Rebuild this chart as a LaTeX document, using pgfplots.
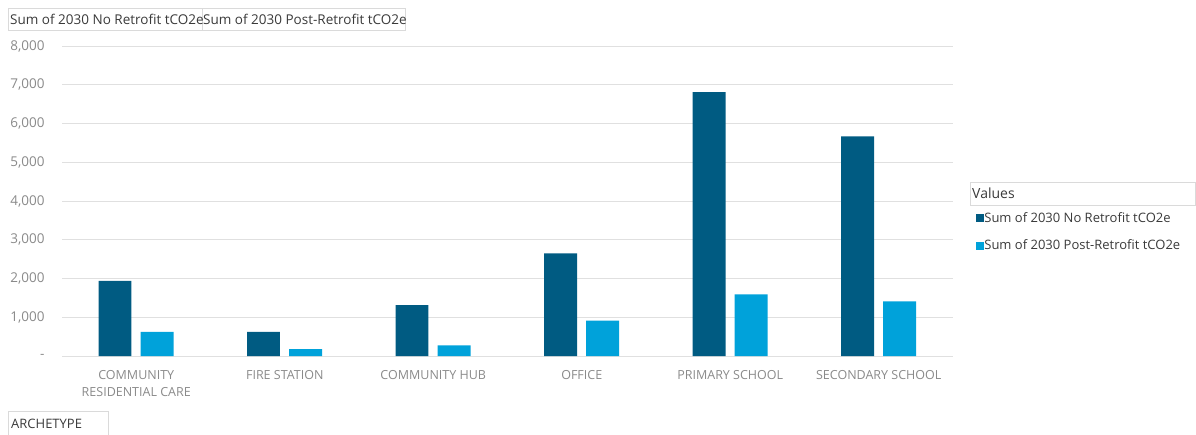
\documentclass[border=0pt]{standalone}
\usepackage{fontspec}
\setmainfont{Open Sans}
\usepackage{pgfplots}
\pgfplotsset{compat=1.18}
\definecolor{dark}{HTML}{005B82}
\definecolor{light}{HTML}{00A2DA}
\definecolor{gridc}{HTML}{E0E0E0}
\definecolor{tickc}{HTML}{8A8A8A}
\definecolor{boxc}{HTML}{DADADA}
\definecolor{txt}{HTML}{3A3A3A}
\begin{document}
\begin{tikzpicture}[x=1pt,y=1pt]
\useasboundingbox (0,0) rectangle (1196,434);
\begin{axis}[
  at={(62pt,78pt)}, anchor=south west,
  scale only axis, width=891pt, height=310pt,
  xmin=-0.5, xmax=5.5, ymin=0, ymax=8000,
  axis line style={draw=none},
  ymajorgrids, grid style={gridc, line width=0.8pt},
  ytick={0,1000,2000,3000,4000,5000,6000,7000,8000},
  yticklabels={{-},{1,000},{2,000},{3,000},{4,000},{5,000},{6,000},{7,000},{8,000}},
  xtick={0,1,2,3,4,5},
  xticklabels={{COMMUNITY\\RESIDENTIAL CARE},{FIRE STATION},{COMMUNITY HUB},{OFFICE},{PRIMARY SCHOOL},{SECONDARY SCHOOL}},
  x tick label style={font=\fontsize{12.5}{17}\selectfont, text=tickc, align=center, yshift=-11pt},
  y tick label style={font=\fontsize{13.5}{16}\selectfont, text=tickc, xshift=-14pt},
  major tick length=0pt,
  ybar, bar width=0.222,
  legend style={at={(1.026,0.47)}, anchor=north west, draw=none, fill=none,
    font=\fontsize{13}{15}\selectfont, text=txt, row sep=12pt,
    inner xsep=0pt, inner ysep=0pt, cells={anchor=west}},
  legend image code/.code={\fill[#1] (0pt,-4pt) rectangle (8pt,4pt);},
]
\addplot[fill=dark, draw=none, bar shift=-0.143] coordinates {(0,1940) (1,620) (2,1310) (3,2650) (4,6810) (5,5670)};
\addlegendentry{\hspace{-2pt}Sum of 2030 No Retrofit tCO2e}
\addplot[fill=light, draw=none, bar shift=0.141] coordinates {(0,620) (1,175) (2,275) (3,911) (4,1592) (5,1411)};
\addlegendentry{\hspace{-2pt}Sum of 2030 Post-Retrofit tCO2e}
\end{axis}
% header field buttons
\draw[boxc, line width=0.8pt] (8,404) rectangle (202,426);
\draw[boxc, line width=0.8pt] (202,404) rectangle (405,426);
\node[anchor=west, text=txt, inner sep=0pt, font=\fontsize{13.5}{15}\selectfont] at (10,415) {Sum of 2030 No Retrofit tCO2e};
\node[anchor=west, text=txt, inner sep=0pt, font=\fontsize{13.5}{15}\selectfont] at (203,415) {Sum of 2030 Post-Retrofit tCO2e};
% values box
\draw[boxc, line width=0.8pt] (970,229) rectangle (1195,252);
\node[anchor=west, text=txt, inner sep=0pt, font=\fontsize{14}{16}\selectfont] at (972,240.5) {Values};
% archetype box
\draw[boxc, line width=0.8pt] (8,-1) rectangle (108,23);
\node[anchor=west, text=txt, inner sep=0pt, font=\fontsize{13}{15}\selectfont] at (11,10) {ARCHETYPE};
\end{tikzpicture}
\end{document}
